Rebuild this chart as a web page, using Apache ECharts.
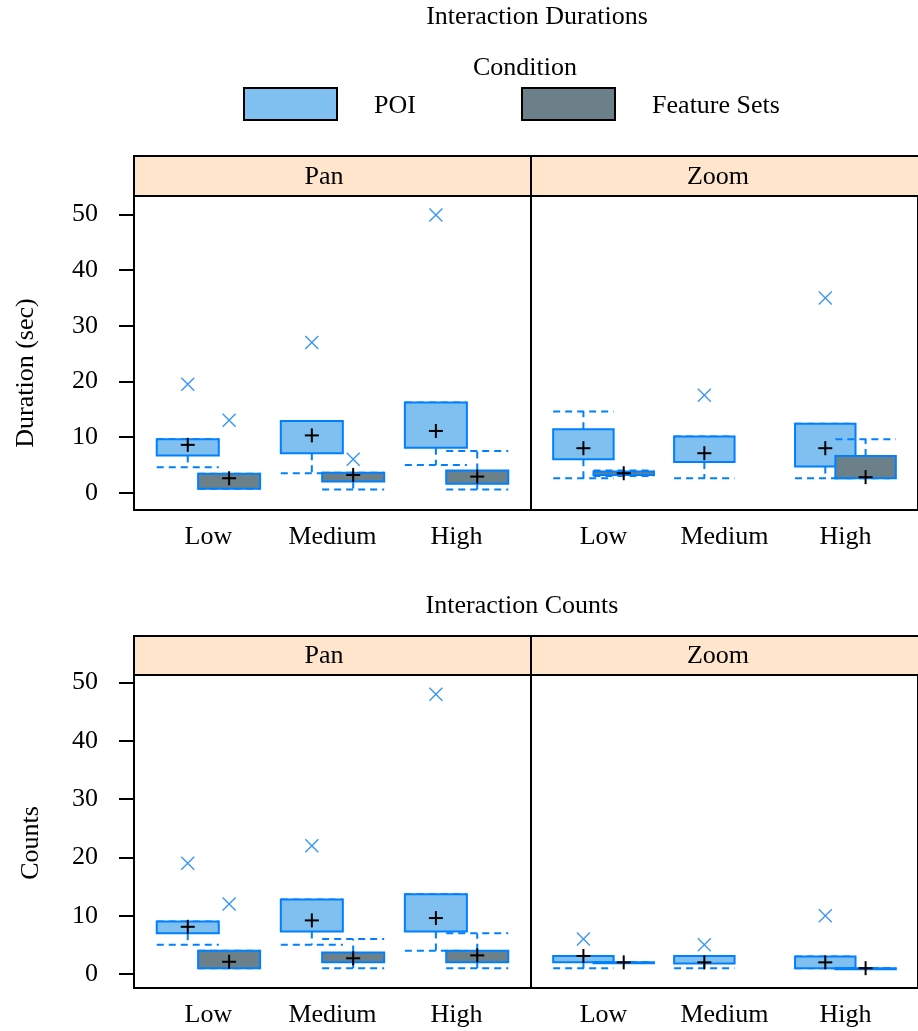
<!DOCTYPE html>
<html>
<head>
<meta charset="utf-8">
<script src="https://cdn.jsdelivr.net/npm/echarts@6/dist/echarts.min.js"></script>
<style>
  html, body { margin: 0; padding: 0; background: #fff; }
  #chart { width: 918px; height: 1031px; }
</style>
</head>
<body>
<div id="chart"></div>
<script>
const levels = ['Low', 'Medium', 'High']
const panels = ['Pan', 'Zoom']
const conditions = ['POI', 'Feature Sets']

// each box: [lower whisker, Q1, median, Q3, upper whisker], null = no data
const durPanPOI = [[4.6, 6.7, 8.6, 9.6, 9.6], [3.5, 7.1, 10.3, 12.9, 12.9], [5.0, 8.1, 11.1, 16.2, 16.2]]
const durPanFS = [[0.7, 0.7, 2.6, 3.4, 3.4], [0.6, 2.0, 3.2, 3.6, 3.6], [0.6, 1.6, 2.9, 4.0, 7.5]]
const durZoomPOI = [[2.6, 6.0, 8.0, 11.4, 14.6], [2.6, 5.5, 7.1, 10.1, 10.1], [2.6, 4.7, 8.0, 12.4, 12.4]]
const durZoomFS = [[3.0, 3.2, 3.5, 3.8, 4.0], null, [2.6, 2.6, 2.8, 6.6, 9.6]]
const durPanPOIOut = [[19.5], [27.0], [49.9]]
const durPanFSOut = [[13.0], [6.0], []]
const durZoomPOIOut = [[], [17.5], [35.0]]
const durZoomFSOut = [[], [], []]

const cntPanPOI = [[5.0, 7.0, 8.1, 9.0, 9.0], [5.0, 7.3, 9.2, 12.8, 12.8], [4.0, 7.3, 9.6, 13.7, 13.7]]
const cntPanFS = [[1.0, 1.0, 2.1, 4.0, 4.0], [1.0, 2.0, 2.7, 3.7, 6.0], [1.0, 2.0, 3.2, 4.0, 7.0]]
const cntZoomPOI = [[1.0, 2.0, 3.1, 3.1, 3.1], [1.0, 1.8, 2.0, 3.1, 3.1], [1.0, 1.0, 2.0, 3.0, 3.0]]
const cntZoomFS = [[2.0, 2.0, 2.0, 2.0, 2.0], null, [1.0, 1.0, 1.0, 1.0, 1.0]]
const cntPanPOIOut = [[19.0], [22.0], [48.0]]
const cntPanFSOut = [[12.0], [], []]
const cntZoomPOIOut = [[6.0], [5.0], [10.0]]
const cntZoomFSOut = [[], [], []]

const yTicks = [0, 10, 20, 30, 40, 50]

const FONT = 'Liberation Serif'
const FS = 26
const edgeColor = '#0080ff'
const crossColor = '#3a96f8'
const fills = ['#80c0f0', '#6b8089']
const boxWidth = 0.5
const groupOffset = [-1 / 6, 1 / 6]
const panelLeft = [134, 531]
const panelWidth = 397

const plots = [
  {
    title: 'Interaction Durations', titleX: 537, titleY: 17, ylab: 'Duration (sec)', ylabX: 26, ylabY: 373,
    stripTop: 156, top: 196, height: 314, min: -3.1, max: 53.3,
    stats: [[durPanPOI, durPanFS], [durZoomPOI, durZoomFS]],
    out: [[durPanPOIOut, durPanFSOut], [durZoomPOIOut, durZoomFSOut]],
  },
  {
    title: 'Interaction Counts', titleX: 522, titleY: 606, ylab: 'Counts', ylabX: 31, ylabY: 843,
    stripTop: 636, top: 675, height: 313, min: -2.4, max: 51.3,
    stats: [[cntPanPOI, cntPanFS], [cntZoomPOI, cntZoomFS]],
    out: [[cntPanPOIOut, cntPanFSOut], [cntZoomPOIOut, cntZoomFSOut]],
  },
]

function seg(x1, y1, x2, y2, style) {
  return { type: 'line', shape: { x1, y1, x2, y2 }, style }
}

function renderBox(params, api) {
  const x = api.value(0)
  const lo = api.coord([x, api.value(1)])
  const q1 = api.coord([x, api.value(2)])
  const md = api.coord([x, api.value(3)])
  const q3 = api.coord([x, api.value(4)])
  const hi = api.coord([x, api.value(5)])
  const half = api.size([boxWidth, 0])[0] / 2
  const cx = md[0]
  const dash = { stroke: edgeColor, lineWidth: 2, lineDash: [7, 5], fill: null }
  const plus = { stroke: '#000', lineWidth: 2 }
  return {
    type: 'group',
    children: [
      seg(cx, q3[1], cx, hi[1], dash),
      seg(cx - half, hi[1], cx + half, hi[1], dash),
      seg(cx, q1[1], cx, lo[1], dash),
      seg(cx - half, lo[1], cx + half, lo[1], dash),
      {
        type: 'rect',
        shape: { x: cx - half, y: q3[1], width: 2 * half, height: Math.max(q1[1] - q3[1], 1) },
        style: { fill: api.visual('color'), stroke: edgeColor, lineWidth: 2 },
      },
      seg(cx - 7, md[1], cx + 7, md[1], plus),
      seg(cx, md[1] - 7, cx, md[1] + 7, plus),
    ],
  }
}

function renderCross(params, api) {
  const p = api.coord([api.value(0), api.value(1)])
  const s = 6.5
  const st = { stroke: crossColor, lineWidth: 1.4 }
  return {
    type: 'group',
    children: [
      seg(p[0] - s, p[1] - s, p[0] + s, p[1] + s, st),
      seg(p[0] - s, p[1] + s, p[0] + s, p[1] - s, st),
    ],
  }
}

const grid = []
const xAxis = []
const yAxis = []
const series = []
const graphic = []

function txt(text, x, y, extra) {
  return Object.assign({
    type: 'text', x, y,
    style: { text, font: `${FS}px "${FONT}"`, fill: '#000', align: 'center', verticalAlign: 'middle' },
  }, extra || {})
}

plots.forEach((p, pi) => {
  graphic.push(txt(p.title, p.titleX, p.titleY))
  graphic.push(txt(p.ylab, p.ylabX, p.ylabY, { rotation: Math.PI / 2 }))
  panels.forEach((name, k) => {
    const gi = pi * 2 + k
    grid.push({
      left: panelLeft[k], top: p.top, width: panelWidth, height: p.height,
      show: true, borderColor: '#000', borderWidth: 2, backgroundColor: 'transparent',
    })
    xAxis.push({
      type: 'value', gridIndex: gi, min: 0.4, max: 3.6,
      axisLine: { show: false }, axisTick: { show: false }, splitLine: { show: false },
      axisLabel: {
        customValues: [1, 2, 3],
        formatter: v => levels[Math.round(v) - 1],
        margin: 14, fontFamily: FONT, fontSize: FS, color: '#000',
      },
    })
    yAxis.push({
      type: 'value', gridIndex: gi, min: p.min, max: p.max, show: k === 0,
      axisLine: { show: false }, splitLine: { show: false },
      axisTick: { show: true, length: 15, customValues: yTicks, lineStyle: { color: '#000', width: 2 } },
      axisLabel: { customValues: yTicks, margin: 36, fontFamily: FONT, fontSize: FS, color: '#000' },
    })
    // strip
    graphic.push({
      type: 'rect',
      shape: { x: panelLeft[k], y: p.stripTop, width: panelWidth, height: p.top - p.stripTop },
      style: { fill: '#ffe5cc', stroke: '#000', lineWidth: 2 },
    })
    graphic.push(txt(name, k === 0 ? 324 : 718, (p.stripTop + p.top) / 2 + 1))

    conditions.forEach((cond, c) => {
      const data = []
      p.stats[k][c].forEach((s, i) => {
        if (s) data.push([i + 1 + groupOffset[c]].concat(s))
      })
      series.push({
        type: 'custom', name: cond, xAxisIndex: gi, yAxisIndex: gi,
        itemStyle: { color: fills[c] }, renderItem: renderBox, data,
        encode: { x: 0, y: [1, 2, 3, 4, 5] }, z: 2 + c,
      })
    })
    conditions.forEach((cond, c) => {
      const pts = []
      p.out[k][c].forEach((vals, i) => vals.forEach(v => pts.push([i + 1 + groupOffset[c], v])))
      series.push({
        type: 'custom', name: cond + ' outliers', xAxisIndex: gi, yAxisIndex: gi,
        renderItem: renderCross, data: pts, encode: { x: 0, y: 1 }, z: 5,
      })
    })
  })
})

// legend
graphic.push(txt('Condition', 525, 68))
graphic.push({ type: 'rect', shape: { x: 244, y: 88, width: 93, height: 32 }, style: { fill: fills[0], stroke: '#000', lineWidth: 2 } })
graphic.push(txt(conditions[0], 395, 106))
graphic.push({ type: 'rect', shape: { x: 522, y: 88, width: 93, height: 32 }, style: { fill: fills[1], stroke: '#000', lineWidth: 2 } })
graphic.push(txt(conditions[1], 716, 106))

const chart = echarts.init(document.getElementById('chart'))
chart.setOption({
  animation: false,
  backgroundColor: '#fff',
  grid, xAxis, yAxis, series, graphic,
})
</script>
</body>
</html>
